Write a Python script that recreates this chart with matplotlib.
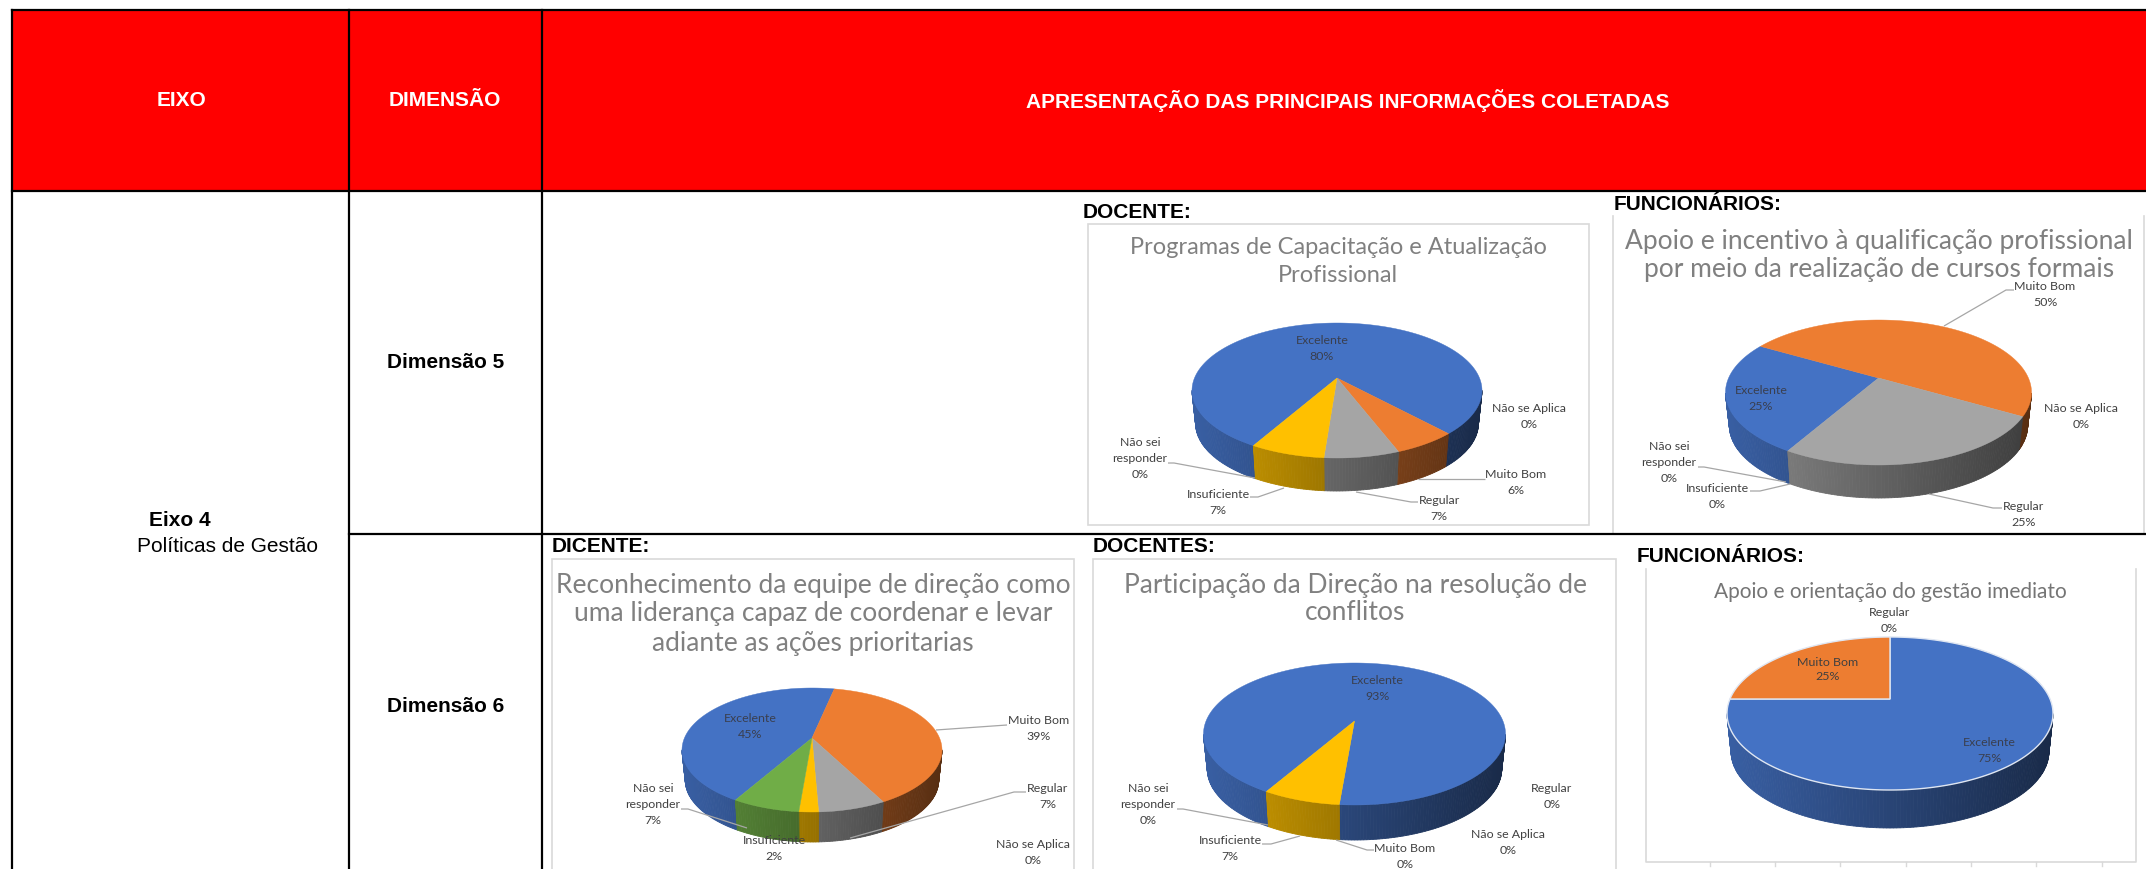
import numpy as np
import matplotlib
matplotlib.use("Agg")
import matplotlib.pyplot as plt
from matplotlib.patches import Polygon, Rectangle

# values of each pie, in percent
categorias = ['Excelente', 'Muito Bom', 'Regular', 'Insuficiente', 'Não se Aplica', 'Não sei responder']
cores = ['#4472C4', '#ED7D31', '#A5A5A5', '#FFC000', '#5B9BD5', '#70AD47']
docente_d5 = [80, 6, 7, 7, 0, 0]
funcionarios_d5 = [25, 50, 25, 0, 0, 0]
dicente_d6 = [45, 39, 7, 2, 0, 7]
docentes_d6 = [93, 0, 0, 7, 0, 0]
funcionarios_d6 = [75, 25, 0]

titulo1 = ['Programas de Capacitação e Atualização', 'Profissional']
titulo2 = ['Apoio e incentivo à qualificação profissional', 'por meio da realização de cursos formais']
titulo3 = ['Reconhecimento da equipe de direção como', 'uma liderança capaz de coordenar e levar', 'adiante as ações prioritarias']
titulo4 = ['Participação da Direção na resolução de', 'conflitos']
titulo5 = ['Apoio e orientação do gestão imediato']

W, H = 2146, 869
ARIAL = 'Liberation Sans'
CHART = 'Lato'
LEADER = '#a6a6a6'

fig = plt.figure(figsize=(W / 100, H / 100), dpi=100, facecolor='w')
ax = fig.add_axes([0, 0, 1, 1])
ax.set_xlim(0, W)
ax.set_ylim(H, 0)
ax.axis('off')


def pie3d(valores, cx, topo, base, rx, apex, prof, inicio, contorno=None):
    # Excel style 3D pie: a circle seen through a projective map, so the
    # centre of the slices (apex) sits above the middle of the ellipse
    ry = (base - topo) / 2
    cy = (base + topo) / 2
    k = (cy - apex) / ry
    sx = rx * np.sqrt(1 - k ** 2)
    sy = ry * (1 - k ** 2)

    def ponto(theta):
        t = np.radians(theta)
        w = 1 + k * np.cos(t)
        return cx + sx * np.sin(t) / w, apex - sy * np.cos(t) / w

    limites = inicio + np.cumsum([0] + list(valores)) * 3.6
    for i, v in enumerate(valores):
        if v == 0:
            continue
        th = np.arange(limites[i], limites[i + 1] + 0.01, 1.0)
        th = np.append(th, limites[i + 1])
        xs, ys = ponto(th)
        rgb = np.array(matplotlib.colors.to_rgb(cores[i]))
        # side wall, darker towards the right
        for j in range(len(th) - 1):
            if (ys[j] + ys[j + 1]) / 2 < cy:
                continue
            xm = ((xs[j] + xs[j + 1]) / 2 - cx) / rx
            c = rgb * (0.6 - 0.23 * xm)
            enc = 0.975
            quad = [(xs[j], ys[j]), (xs[j + 1], ys[j + 1]),
                    (cx + (xs[j + 1] - cx) * enc, ys[j + 1] + prof),
                    (cx + (xs[j] - cx) * enc, ys[j] + prof)]
            ax.add_patch(Polygon(quad, closed=True, fc=c, ec=c, lw=0.6, zorder=3))
    for i, v in enumerate(valores):
        if v == 0:
            continue
        th = np.arange(limites[i], limites[i + 1] + 0.01, 1.0)
        th = np.append(th, limites[i + 1])
        xs, ys = ponto(th)
        pts = [(cx, apex)] + list(zip(xs, ys))
        ec = contorno if contorno else cores[i]
        ax.add_patch(Polygon(pts, closed=True, fc=cores[i], ec=ec,
                             lw=1.0 if contorno else 0.3, zorder=4))


def rotulo(nome, valor, x, y, passo=16, cor='#404040'):
    linhas = nome + [f'{valor}%']
    for i, s in enumerate(linhas):
        ax.text(x, y + i * passo, s, ha='center', va='center', family=CHART,
                fontsize=8.9, color=cor, zorder=6)


def guia(*pts):
    xs, ys = zip(*pts)
    ax.plot(xs, ys, color=LEADER, lw=0.9, zorder=5, solid_capstyle='butt')


def titulo(linhas, x, ys, tam, cor='#808080'):
    for s, y in zip(linhas, ys):
        ax.text(x, y, s, ha='center', va='center', family=CHART, fontsize=tam, color=cor, zorder=6)


def caixa(x0, y0, x1, y1):
    ax.add_patch(Rectangle((x0, y0), x1 - x0, y1 - y0, fc='w', ec='#d9d9d9', lw=1.2, zorder=1))


def secao(s, x, y):
    ax.text(x, y, s, ha='left', va='center', family=ARIAL, weight='bold', fontsize=15,
            color='k', zorder=7)


# table
ax.add_patch(Rectangle((12, 9.5), W - 12, 181.5, fc='#FF0000', ec='none', zorder=0))
for x in [12, 349, 542]:
    ax.plot([x, x], [9.5, H], color='k', lw=1.6, zorder=8)
for y in [9.5, 191]:
    ax.plot([12, W], [y, y], color='k', lw=1.6, zorder=8)
ax.plot([349, W], [534, 534], color='k', lw=1.6, zorder=8)

for s, x in zip(['EIXO', 'DIMENSÃO', 'APRESENTAÇÃO DAS PRINCIPAIS INFORMAÇÕES COLETADAS'], [181, 445, 1348]):
    ax.text(x, 101, s, ha='center', va='center', family=ARIAL, weight='bold', fontsize=15, color='w', zorder=7)
ax.text(446, 363, 'Dimensão 5', ha='center', va='center', family=ARIAL, weight='bold', fontsize=15, zorder=7)
ax.text(446, 706, 'Dimensão 6', ha='center', va='center', family=ARIAL, weight='bold', fontsize=15, zorder=7)
ax.text(149, 521, 'Eixo 4', ha='left', va='center', family=ARIAL, weight='bold', fontsize=15, zorder=7)
ax.text(137, 546, 'Políticas de Gestão', ha='left', va='center', family=ARIAL, fontsize=15, zorder=7)

# Dimensao 5, docente
secao('DOCENTE:', 1083, 212)
caixa(1088, 224, 1589, 525)
titulo(titulo1, 1338, [248, 276], 17)
pie3d(docente_d5, 1337, 323, 458, 145, 378, 33, 209.5)
rotulo(['Excelente'], docente_d5[0], 1322, 340, cor='#3a3f4f')
rotulo(['Muito Bom'], docente_d5[1], 1516, 474)
rotulo(['Regular'], docente_d5[2], 1439, 500)
rotulo(['Insuficiente'], docente_d5[3], 1218, 494)
rotulo(['Não se Aplica'], docente_d5[4], 1529, 408)
rotulo(['Não sei', 'responder'], docente_d5[5], 1140, 443)
guia((1168, 463), (1174, 463), (1255, 478))
guia((1250, 497), (1258, 497), (1284, 488))
guia((1485, 479), (1418, 479))
guia((1418, 502), (1411, 502), (1356, 492))

# Dimensao 5, funcionarios
secao('FUNCIONÁRIOS:', 1614, 204)
ax.plot([1613, 1613], [216, 533], color='#d9d9d9', lw=1.2, zorder=1)
ax.plot([2144, 2144], [216, 533], color='#d9d9d9', lw=1.2, zorder=1)
titulo(titulo2, 1879, [241, 270], 19)
pie3d(funcionarios_d5, 1878.5, 320, 465, 153, 378, 33, 210)
rotulo(['Excelente'], funcionarios_d5[0], 1761, 391, cor='#3a3f4f')
rotulo(['Muito Bom'], funcionarios_d5[1], 2045, 286)
rotulo(['Regular'], funcionarios_d5[2], 2024, 507)
rotulo(['Insuficiente'], funcionarios_d5[3], 1717, 488)
rotulo(['Não se Aplica'], funcionarios_d5[4], 2081, 409)
rotulo(['Não sei', 'responder'], funcionarios_d5[5], 1669, 447)
guia((2014, 290), (2006, 290), (1944, 326))
guia((2002, 508), (1993, 508), (1929, 494))
guia((1698, 467), (1704, 467), (1786, 482))
guia((1750, 491), (1760, 491), (1790, 484))

# Dimensao 6, dicente
secao('DICENTE:', 552, 547)
ax.add_patch(Rectangle((552, 559), 522, 320, fc='w', ec='#d9d9d9', lw=1.2, zorder=1))
titulo(titulo3, 813, [586, 614, 643], 19)
pie3d(dicente_d6, 812, 688, 812, 130, 738, 30, 210)
rotulo(['Excelente'], dicente_d6[0], 750, 718, cor='#3a3f4f')
rotulo(['Muito Bom'], dicente_d6[1], 1039, 720)
rotulo(['Regular'], dicente_d6[2], 1048, 788)
rotulo(['Insuficiente'], dicente_d6[3], 774, 840)
rotulo(['Não se Aplica'], dicente_d6[4], 1033, 845)
rotulo(['Não sei', 'responder'], dicente_d6[5], 653, 788)
guia((1007, 725), (936, 730))
guia((1026, 792), (1014, 792), (850, 838))
guia((681, 809), (688, 809), (747, 828))

# Dimensao 6, docentes
secao('DOCENTES:', 1093, 547)
ax.add_patch(Rectangle((1093, 559), 523, 320, fc='w', ec='#d9d9d9', lw=1.2, zorder=1))
titulo(titulo4, 1355, [585, 613], 19)
pie3d(docentes_d6, 1354.5, 663, 805, 151, 721, 35, 210)
rotulo(['Excelente'], docentes_d6[0], 1377, 681, cor='#3a3f4f')
rotulo(['Muito Bom'], docentes_d6[1], 1405, 848)
rotulo(['Regular'], docentes_d6[2], 1552, 789)
rotulo(['Insuficiente'], docentes_d6[3], 1230, 841)
rotulo(['Não se Aplica'], docentes_d6[4], 1508, 835)
rotulo(['Não sei', 'responder'], docentes_d6[5], 1148, 789)
guia((1177, 809), (1183, 809), (1268, 825))
guia((1262, 844), (1271, 844), (1300, 836))
guia((1374, 850), (1367, 850), (1336, 840))

# Dimensao 6, funcionarios
secao('FUNCIONÁRIOS:', 1637, 557)
ax.plot([1646, 1646, 2136, 2136], [569, 862, 862, 569], color='#d9d9d9', lw=1.2, zorder=1)
for x in [1710, 1775, 1840, 1906, 1971, 2036, 2102]:
    ax.plot([x, x], [862, 866], color='#d9d9d9', lw=1, zorder=1)
titulo(titulo5, 1890, [592], 15, cor='#757575')
pie3d(funcionarios_d6, 1890, 637, 790, 163, 699, 38, 0, contorno='#dfe6f2')
rotulo(['Excelente'], funcionarios_d6[0], 1989, 743, passo=15, cor='#3a3f4f')
rotulo(['Muito Bom'], funcionarios_d6[1], 1828, 662, passo=15)
rotulo(['Regular'], funcionarios_d6[2], 1889, 613, passo=15)

plt.savefig('out.png', dpi=100, facecolor='w')
